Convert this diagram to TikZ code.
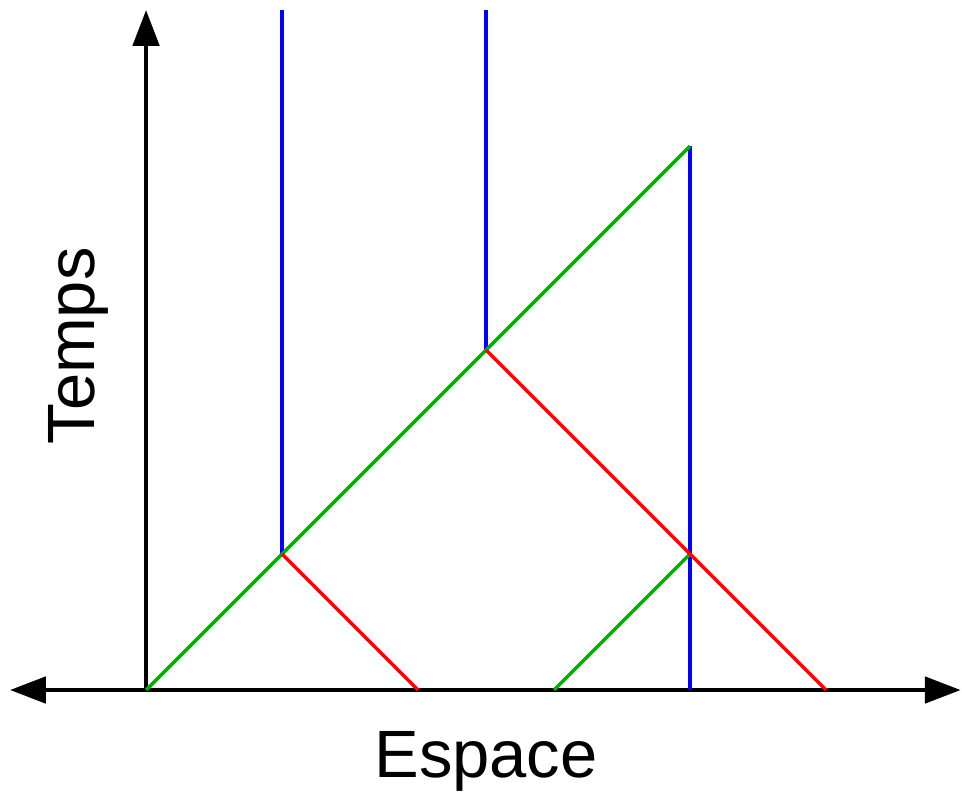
\documentclass[tikz,border=0pt]{standalone}
\usepackage{fontspec}
\setmainfont{Liberation Sans}
\usepackage{xcolor}
\usetikzlibrary{arrows.meta}
\definecolor{lgreen}{RGB}{0,176,0}

\begin{document}
\begin{tikzpicture}[
  x=2cm, y=2cm,
  axis/.style={line width=1.7pt, black},
  axisarrow/.style={axis, -{Triangle[length=15pt, width=11pt]}},
  wall/.style={line width=1.45pt, blue},
  wave/.style={line width=1.45pt, lgreen},
  echo/.style={line width=1.45pt, red},
  lbl/.style={font=\fontsize{28}{34}\selectfont, inner sep=0pt},
]
  \useasboundingbox (-1.074,-0.757) rectangle (6.0,5.074);

  % points
  \coordinate (origin) at (0,0);
  \coordinate (xleft)  at (-1,0);
  \coordinate (xright) at (5.99,0);
  \coordinate (ytop)   at (0,5.0);
  \coordinate (hitA)   at (1,1);
  \coordinate (hitB)   at (2.5,2.5);
  \coordinate (hitC)   at (4,4);
  \coordinate (hitD)   at (4,1);
  \coordinate (topA)   at (1,5.0);
  \coordinate (topB)   at (2.5,5.0);
  \coordinate (baseC)  at (4,0);
  \coordinate (footA)  at (2,0);
  \coordinate (footB)  at (5,0);
  \coordinate (footD)  at (3,0);

  % axes
  \draw[axisarrow] (origin) -- (xleft);
  \draw[axisarrow] (origin) -- (xright);
  \draw[axisarrow] (origin) -- (ytop);

  % walls
  \draw[wall] (hitA) -- (topA);
  \draw[wall] (hitB) -- (topB);
  \draw[wall] (baseC) -- (hitC);

  % rays
  \draw[wave] (origin) -- (hitC);
  \draw[wave] (footD) -- (hitD);
  \draw[echo] (hitA) -- (footA);
  \draw[echo] (hitB) -- (footB);

  % labels
  \node[lbl, anchor=base] (espace) at (2.5,-0.64) {Espace};
  \node[lbl, anchor=base, rotate=90] (temps) at (-0.38,2.53) {Temps};
\end{tikzpicture}
\end{document}
